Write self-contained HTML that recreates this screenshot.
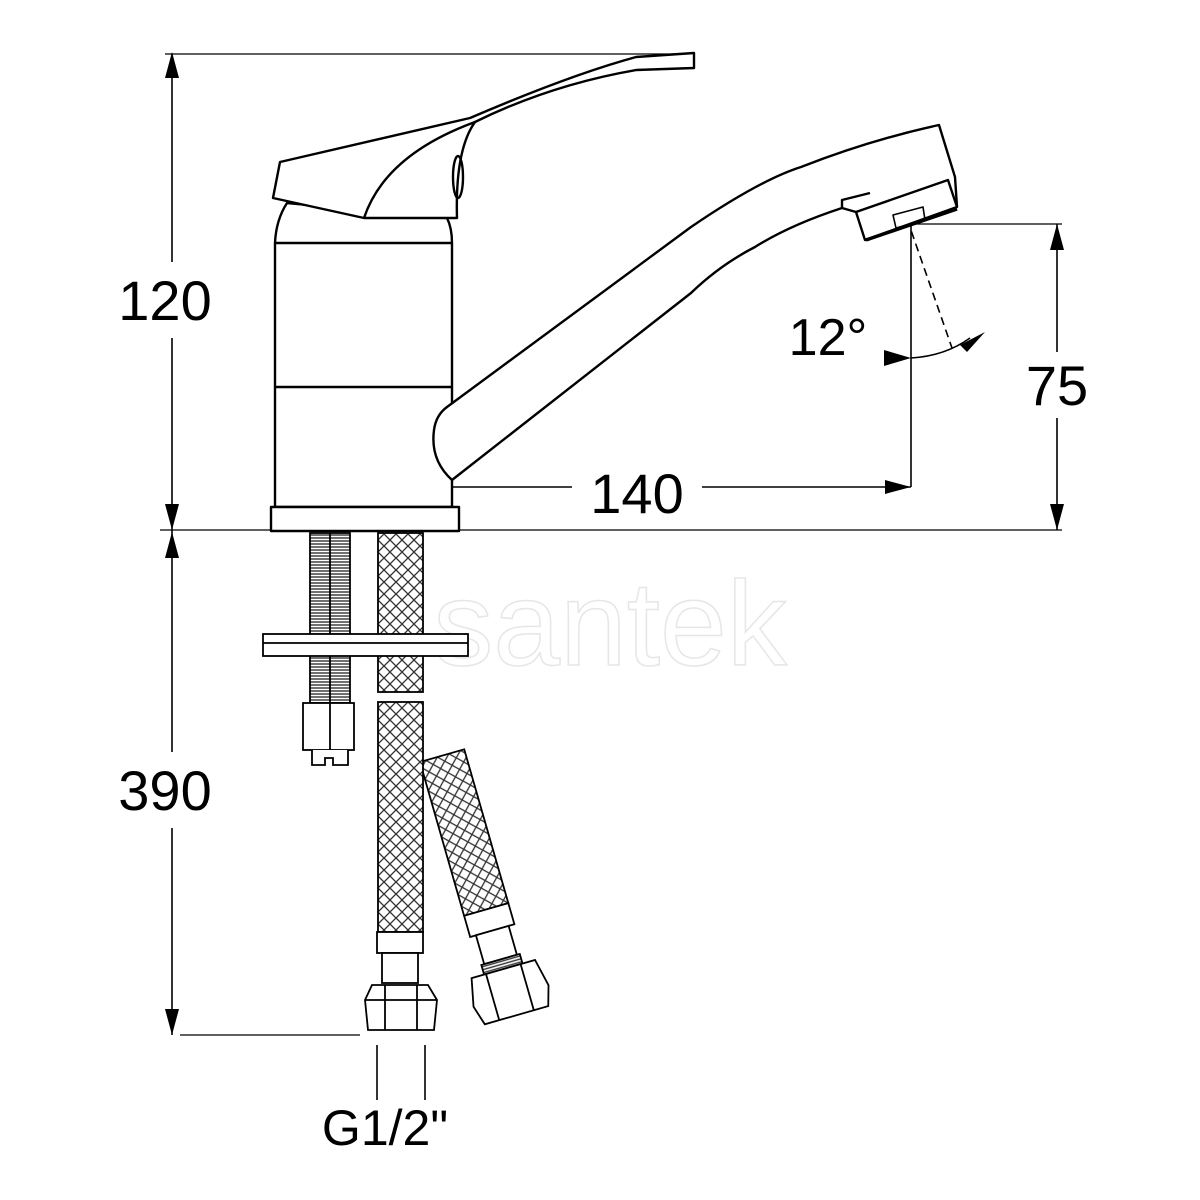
<!DOCTYPE html>
<html><head><meta charset="utf-8"><style>body{margin:0;background:#fff}svg{display:block}</style></head><body>
<svg width="1200" height="1200" viewBox="0 0 1200 1200" xmlns="http://www.w3.org/2000/svg" font-family="Liberation Sans, sans-serif">
<defs>
<pattern id="br" width="12" height="12" patternUnits="userSpaceOnUse">
<rect width="12" height="12" fill="#fff"/>
<path d="M0 6 L6 0 M6 12 L12 6 M6 0 L12 6 M0 6 L6 12" stroke="#333" stroke-width="1.3" fill="none"/>
</pattern>
<pattern id="th" width="4" height="3" patternUnits="userSpaceOnUse">
<rect width="4" height="3" fill="#fff"/><line x1="0" y1="1" x2="4" y2="1" stroke="#333" stroke-width="1.4"/>
</pattern>
</defs>
<text x="610" y="665" font-size="120" fill="none" stroke="#e6e6e6" stroke-width="1.5" text-anchor="middle">santek</text>
<g stroke="#000" stroke-width="1.6" fill="none">
<line x1="165" y1="54" x2="690" y2="54" stroke-width="1.3"/>
<line x1="172" y1="54" x2="172" y2="262"/><line x1="172" y1="338" x2="172" y2="752"/><line x1="172" y1="828" x2="172" y2="1035"/>
<line x1="160" y1="530" x2="1062" y2="530" stroke-width="1.3"/>
<line x1="180" y1="1035" x2="360" y2="1035" stroke-width="1.3"/>
<line x1="910" y1="224" x2="1062" y2="224" stroke-width="1.3"/>
<line x1="1057" y1="224" x2="1057" y2="352"/><line x1="1057" y1="418" x2="1057" y2="530"/>
<line x1="911" y1="222" x2="911" y2="487"/>
<line x1="365" y1="487" x2="572" y2="487"/><line x1="702" y1="487" x2="911" y2="487"/>
<line x1="365" y1="487" x2="365" y2="530" stroke-dasharray="5 3"/>
<line x1="890" y1="170" x2="952" y2="348" stroke-dasharray="8 5"/>
<path d="M911 358 Q945 356 970 338"/>
<line x1="377" y1="1045" x2="377" y2="1100"/><line x1="425" y1="1045" x2="425" y2="1100"/>
</g>
<g fill="#000">
<path d="M172 52 L165 78 L179 78Z"/><path d="M172 530 L165 504 L179 504Z"/>
<path d="M172 532 L165 558 L179 558Z"/><path d="M172 1035 L165 1009 L179 1009Z"/>
<path d="M1057 224 L1050 250 L1064 250Z"/><path d="M1057 530 L1050 504 L1064 504Z"/>
<path d="M365 487 L391 480 L391 494Z"/><path d="M911 487 L885 480 L885 494Z"/>
<path d="M911 358 L884 350 L884 366Z"/><path d="M985 332 L960 345 L967 352Z"/>
</g>
<g font-size="56" fill="#000">
<text x="165" y="320" text-anchor="middle">120</text>
<text x="165" y="810" text-anchor="middle">390</text>
<text x="1057" y="405" text-anchor="middle">75</text>
<text x="637" y="513" text-anchor="middle">140</text>
<text x="828" y="355" text-anchor="middle" font-size="52">12°</text>
<text x="385" y="1145" text-anchor="middle" font-size="50">G1/2"</text>
</g>
<g stroke="#000" stroke-width="2.4" fill="#fff" stroke-linejoin="round">
<path d="M287 203 Q276 220 275 243 L275 507 L452 507 L452 243 Q452 228 447 218 Z"/>
<line x1="275" y1="243" x2="452" y2="243"/><line x1="275" y1="387" x2="452" y2="387"/>
<rect x="271" y="507" width="188" height="24"/>
<path d="M280 162 L470 118 Q570 75 636 57 L694 53 L694 68 L636 70 Q550 85 475 122 Q455 150 457 218 L364 218 L273 198 Z"/>
<path d="M364 218 Q385 155 475 122" fill="none"/>
<ellipse cx="458" cy="177" rx="5" ry="21" fill="none"/>
<path d="M447 407 L691 227 Q760 180 801 167 Q870 140 939 125 L955 177 L957 207 L865 240 L856 212 L842 208 Q790 225 755 247 Q720 265 691 293 L452 480 Q430 460 434 430 Q436 415 447 407 Z"/>
<path d="M856 212 L948 180 L957 207" fill="none"/>
<path d="M842 208 L842 200 L870 193" fill="none"/>
<path d="M893 215 L923 207 L925 220 L896 228 Z" fill="none" stroke-width="1.6"/>
<path d="M866 240 L957 209" fill="none" stroke-width="3.5"/>
</g>
<g stroke="#000" stroke-width="1.8">
<rect x="310" y="533" width="40" height="170" fill="url(#th)"/>
<line x1="330" y1="533" x2="330" y2="703"/>
<rect x="303" y="703" width="51" height="47" fill="#fff"/>
<line x1="330" y1="703" x2="330" y2="750"/>
<path d="M312 750 L312 765 L325 765 L325 758 L333 758 L333 765 L348 765 L348 750" fill="#fff"/>
<g transform="translate(420,762) rotate(-16)">
<rect x="0" y="0" width="46" height="160" fill="url(#br)"/>
<rect x="0" y="160" width="46" height="22" fill="#fff"/>
<rect x="6" y="182" width="34" height="30" fill="#fff"/>
<rect x="3" y="212" width="40" height="10" fill="url(#th)"/>
<path d="M-10 222 L56 222 L62 250 L56 270 L-10 270 L-16 250 Z" fill="#fff"/>
<line x1="5" y1="222" x2="5" y2="270"/><line x1="41" y1="222" x2="41" y2="270"/>
</g>
<rect x="378" y="533" width="45" height="159" fill="url(#br)"/>
<rect x="378" y="702" width="45" height="230" fill="url(#br)"/>
<rect x="377" y="932" width="46" height="21" fill="#fff"/>
<rect x="382" y="953" width="36" height="30" fill="#fff"/>
<path d="M372 985 L428 985 L437 1000 L434 1030 L368 1030 L365 1000 Z" fill="#fff"/>
<line x1="385" y1="985" x2="385" y2="1030"/><line x1="417" y1="985" x2="417" y2="1030"/>
<line x1="365" y1="1000" x2="437" y2="1000"/>
<rect x="263" y="634" width="205" height="22" fill="#fff"/>
<line x1="263" y1="643" x2="468" y2="643"/>
</g>
</svg>
</body></html>
